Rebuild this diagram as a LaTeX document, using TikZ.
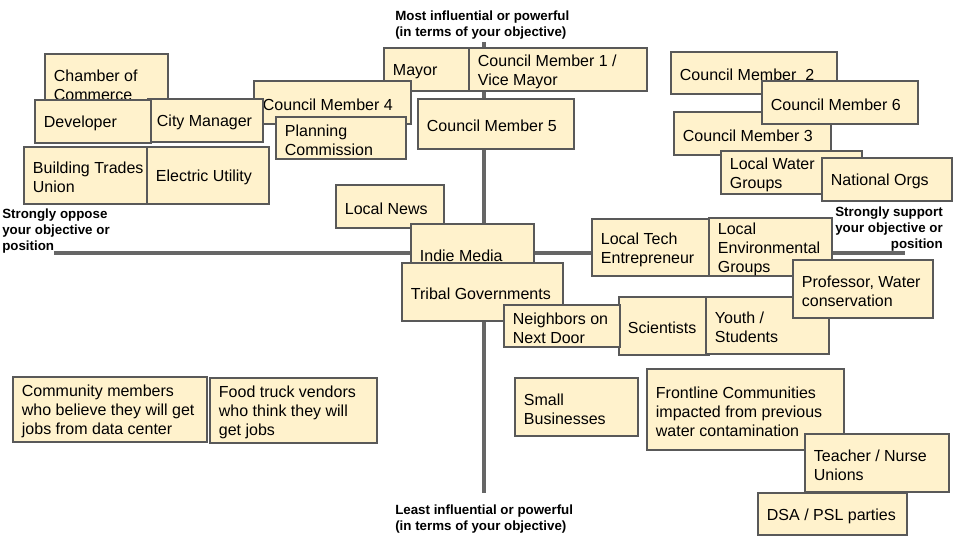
\documentclass[tikz,border=0pt]{standalone}
\usepackage{fontspec}
\setmainfont{Liberation Sans}
\usetikzlibrary{fit}
\definecolor{stkfill}{HTML}{FFF2CC}
\definecolor{stkline}{HTML}{595959}
\definecolor{axisgray}{HTML}{666666}
\tikzset{
  stk/.style={draw=stkline, fill=stkfill, line width=0.8pt, inner sep=0pt},
  stxt/.style={anchor=west, align=left, inner sep=0pt, font=\fontsize{12}{14.25}\selectfont, text=black},
  axislbl/.style={inner sep=0pt, font=\bfseries\fontsize{10}{12}\selectfont, text=black},
  axisline/.style={draw=axisgray, line width=2.4pt},
}
\newcommand\stakebox[6]{%
  \node[stk, fit={(#2,#3) (#4,#5)}] (#1) {};
  \node[stxt] (#1-t) at ([xshift=6.9pt,yshift=-1.7pt]#1.west) {#6};
}
\begin{document}
\begin{tikzpicture}[x=0.75pt, y=-0.75pt]
\fill[white] (0,0) rectangle (960,540);
\useasboundingbox (0,0) rectangle (960,540);
% axes
\coordinate (vtop) at (484,42);
\coordinate (vbot) at (484,493);
\coordinate (hleft) at (54,253);
\coordinate (hright) at (905,253);
\draw[axisline] (vtop) -- (vbot);
\draw[axisline] (hleft) -- (hright);
% axis labels
\node[axislbl, anchor=west, align=left] (toplbl) at (395,25.5) {Most influential or powerful\\(in terms of your objective)};
\node[axislbl, anchor=west, align=left] (botlbl) at (395,519.5) {Least influential or powerful\\(in terms of your objective)};
\node[axislbl, anchor=west, align=left] (leftlbl) at (2,231.5) {Strongly oppose\\your objective or\\position};
\node[axislbl, anchor=east, align=right] (rightlbl) at (943,229) {Strongly support\\your objective or\\position};
% stakeholders
\stakebox{mayor}{384}{48}{470}{91}{Mayor}
\stakebox{cmone}{469}{48}{647}{91}{Council Member 1 /\\Vice Mayor}
\stakebox{cmfour}{254}{81}{411}{124}{Council Member 4}
\stakebox{planning}{276}{117}{406}{159}{Planning\\Commission}
\stakebox{chamber}{45}{54}{168}{113}{Chamber of\\Commerce}
\stakebox{citymgr}{148}{99}{263}{142}{City Manager}
\stakebox{developer}{35}{100}{151}{143}{Developer}
\stakebox{cmfive}{418}{99}{574}{149}{Council Member 5}
\stakebox{trades}{24}{147}{147}{204}{Building Trades\\Union}
\stakebox{electric}{147}{147}{269}{204}{Electric Utility}
\stakebox{cmtwo}{671}{52}{837}{94}{Council Member\ \ 2}
\stakebox{cmthree}{674}{112}{831}{155}{Council Member 3}
\stakebox{cmsix}{762}{81}{918}{124}{Council Member 6}
\stakebox{water}{721}{151}{862}{194}{Local Water\\Groups}
\stakebox{national}{822}{158}{952}{201}{National Orgs}
\stakebox{localnews}{336}{185}{444}{228}{Local News}
\stakebox{indie}{411}{224}{534}{284}{Indie Media}
\stakebox{tribal}{402}{263}{563}{321}{Tribal Governments}
\stakebox{tech}{592}{219}{709}{276}{Local Tech\\Entrepreneur}
\stakebox{env}{709}{218}{832}{276}{Local\\Environmental\\Groups}
\stakebox{scientists}{619}{297}{709}{355}{Scientists}
\stakebox{neighbors}{504}{305}{620}{347}{Neighbors on\\Next Door}
\stakebox{youth}{706}{297}{829}{354}{Youth /\\Students}
\stakebox{professor}{793}{260}{933}{318}{Professor, Water\\conservation}
\stakebox{community}{13}{377}{207}{442}{Community members\\who believe they will get\\jobs from data center}
\stakebox{foodtruck}{210}{378}{377}{443}{Food truck vendors\\who think they will\\get jobs}
\stakebox{smallbiz}{515}{378}{638}{436}{Small\\Businesses}
\stakebox{frontline}{647}{369}{844}{450}{Frontline Communities\\impacted from previous\\water contamination}
\stakebox{teacher}{805}{434}{949}{492}{Teacher / Nurse\\Unions}
\stakebox{dsa}{758}{493}{907}{535}{DSA / PSL parties}
\end{tikzpicture}
\end{document}
